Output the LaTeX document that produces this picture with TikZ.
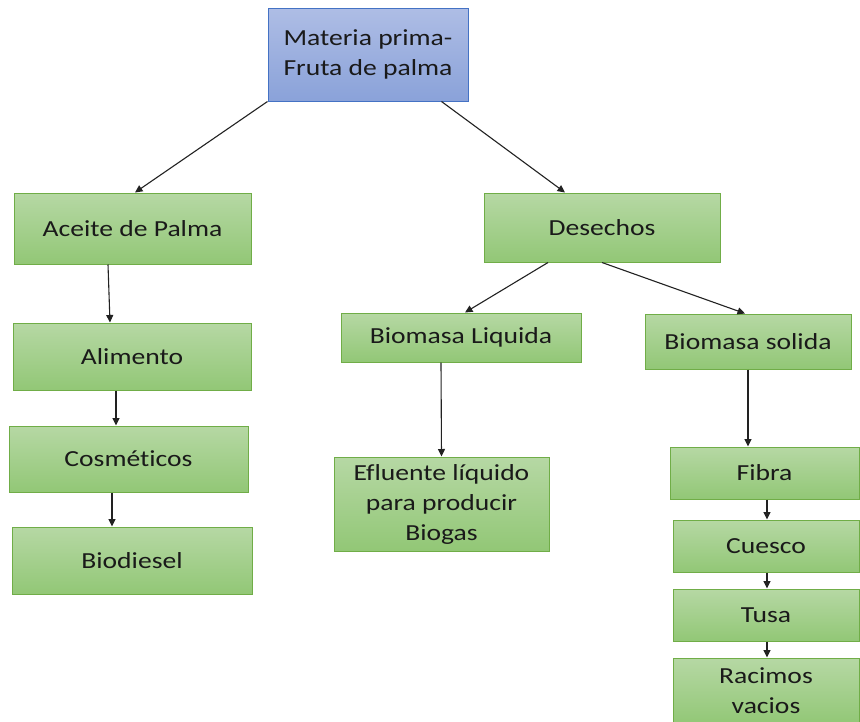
\documentclass[tikz,border=0pt]{standalone}
\usepackage{fontspec}
\setmainfont{Carlito}[FakeStretch=1.2,Ligatures=NoCommon]
\usetikzlibrary{arrows.meta,calc}
\definecolor{gtop}{HTML}{B6D8A4}
\definecolor{gbot}{HTML}{92C776}
\definecolor{gline}{HTML}{70AD47}
\definecolor{btop}{HTML}{AEBDE5}
\definecolor{bbot}{HTML}{8AA2D9}
\definecolor{bline}{HTML}{4472C4}
\definecolor{txt}{HTML}{1A1A1A}
\definecolor{arr}{HTML}{222222}
\begin{document}
\begin{tikzpicture}[x=1pt,y=-1pt,
  basebox/.style={rectangle, inner sep=0pt, align=center, text=txt,
    font=\fontsize{23}{30}\selectfont, line width=1pt},
  gbox/.style={basebox, draw=gline, top color=gtop, bottom color=gbot},
  bbox/.style={basebox, draw=bline, top color=btop, bottom color=bbot},
  conn/.style={draw=arr, line width=1.1pt, -{Triangle[length=7.5pt,width=7pt]}}]
\useasboundingbox (0,0) rectangle (860,721);
\clip (0,0) rectangle (860,721);
\fill[white] (0,0) rectangle (860,721);

\node[bbox, minimum width=200pt, minimum height=93pt] (mat) at (368,54.5) {Materia prima-\\Fruta de palma};

\node[gbox, minimum width=237pt, minimum height=71pt] (ace) at (132.5,228.5) {Aceite de Palma};
\node[gbox, minimum width=236pt, minimum height=69pt] (des) at (602,227.5) {Desechos};

\node[gbox, minimum width=238pt, minimum height=67pt] (ali) at (132,356.5) {Alimento};
\node[gbox, minimum width=239pt, minimum height=66pt] (cos) at (128.5,459) {Cosméticos};
\node[gbox, minimum width=240pt, minimum height=67pt] (bio) at (132,560.5) {Biodiesel};

\node[gbox, minimum width=240pt, minimum height=49pt] (bl) at (461,337.5) {Biomasa Liquida};
\node[gbox, minimum width=215pt, minimum height=94pt] (efl) at (441.5,504) {Efluente líquido\\para producir\\Biogas};

\node[gbox, minimum width=206pt, minimum height=55pt] (bs) at (748,341.5) {Biomasa solida};
\node[gbox, minimum width=189pt, minimum height=52pt] (fib) at (764.5,473) {Fibra};
\node[gbox, minimum width=186pt, minimum height=52pt] (cue) at (766,546) {Cuesco};
\node[gbox, minimum width=186pt, minimum height=52pt] (tus) at (766,615) {Tusa};
\node[gbox, minimum width=186pt, minimum height=66pt] (rac) at (766,691) {Racimos\\vacios};

\draw[conn] (mat.south west) -- ($(ace.north)+(2.5,0)$);
\draw[conn] ($(mat.south east)+(-27,0)$) -- ($(des.north)+(-37,0)$);
\draw[conn] ($(ace.south)+(-24.5,0)$) -- ($(ali.north)+(-22,0)$);
\draw[conn] ($(ali.south)+(-16,0)$) -- ($(cos.north)+(-12.5,0)$);
\draw[conn] ($(cos.south)+(-16.5,0)$) -- ($(bio.north)+(-20,0)$);
\draw[conn] ($(des.south)+(-54,0)$) -- ($(bl.north)+(4,0)$);
\draw[conn] (des.south) -- ($(bs.north)+(-3,0)$);
\draw[conn] ($(bl.south)+(-20,0)$) -- (efl.north);
\draw[conn] (bs.south) -- ($(fib.north)+(-16.5,0)$);
\draw[conn] ($(fib.south)+(2.5,0)$) -- ($(cue.north)+(1,0)$);
\draw[conn] ($(cue.south)+(1,0)$) -- ($(tus.north)+(1,0)$);
\draw[conn] ($(tus.south)+(1,0)$) -- ($(rac.north)+(1,0)$);
\end{tikzpicture}
\end{document}
